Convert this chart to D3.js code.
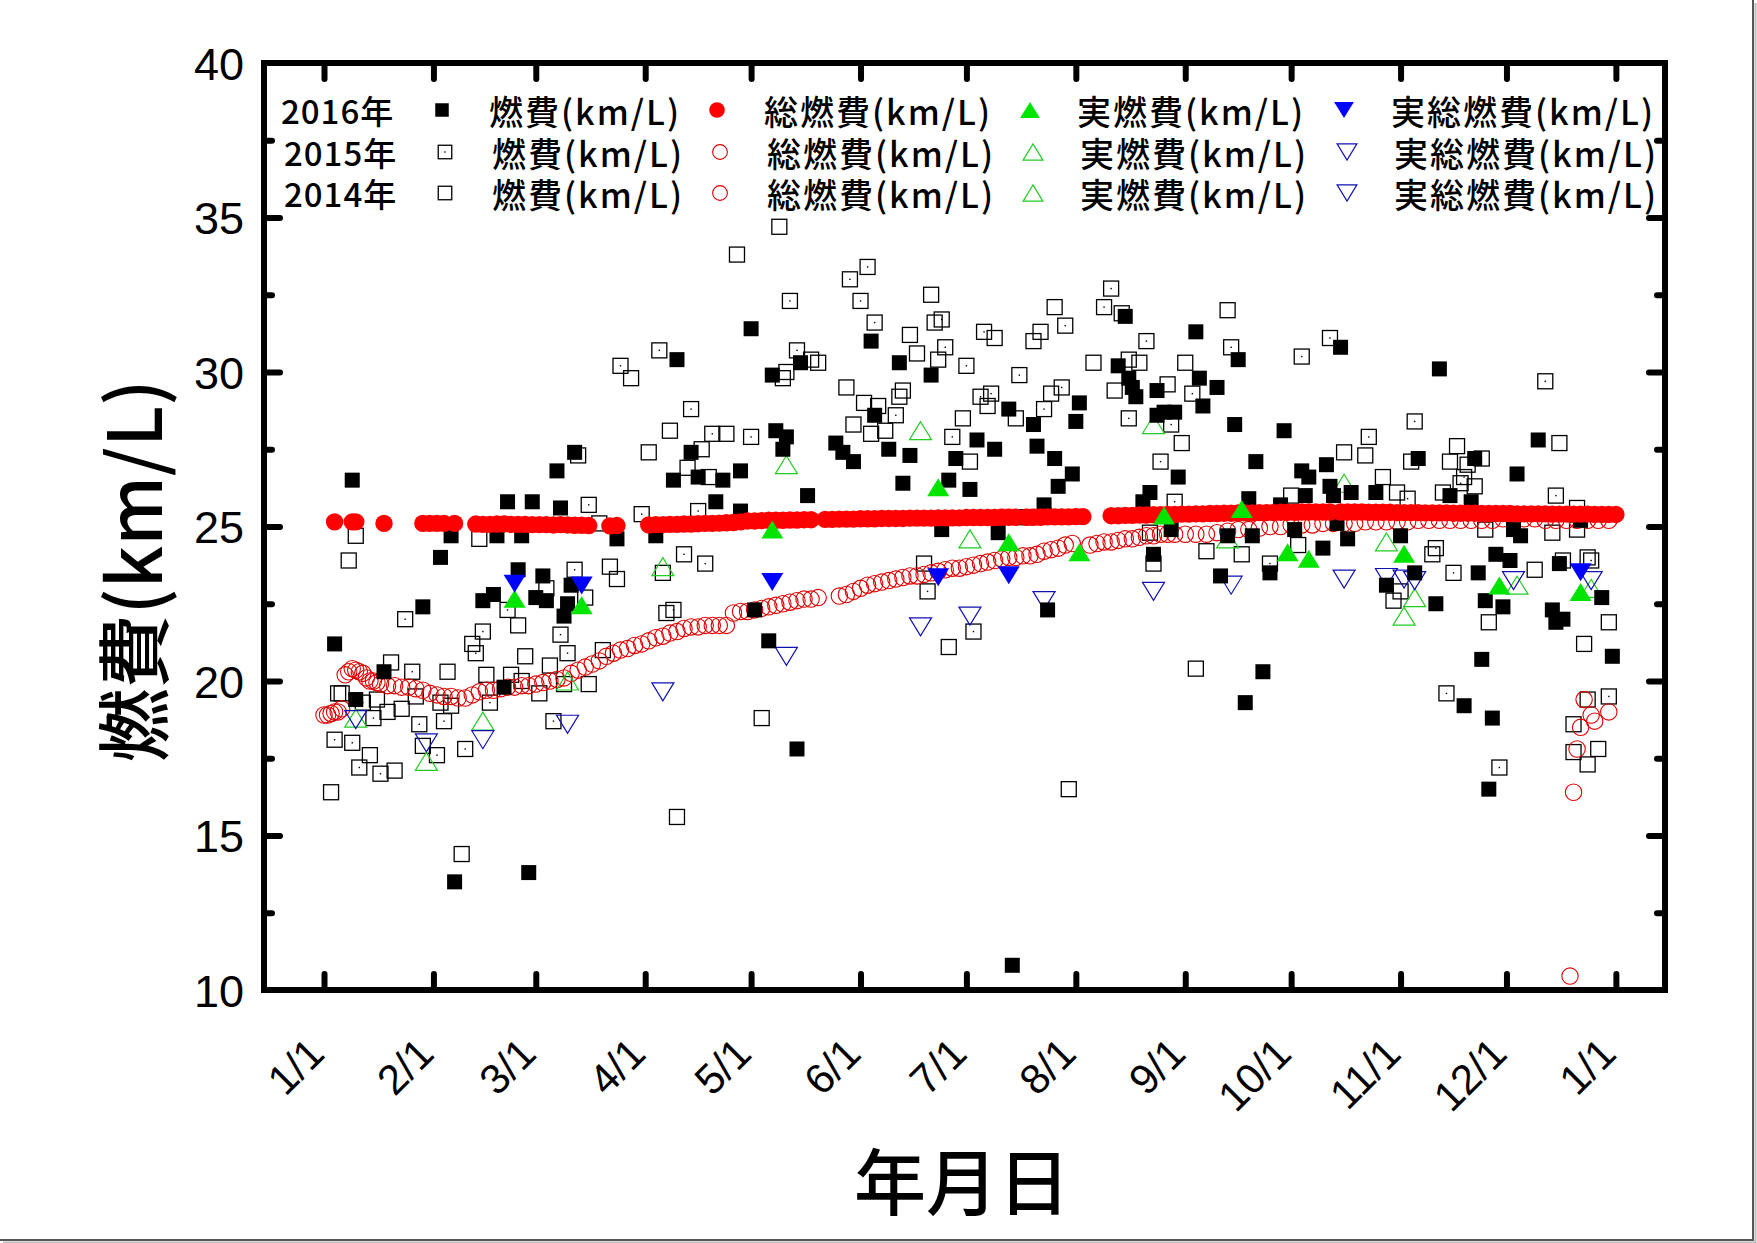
<!DOCTYPE html>
<html>
<head>
<meta charset="utf-8">
<script src="https://cdn.jsdelivr.net/npm/d3@7"></script>
<style>
  body { margin: 0; background: #fff; }
</style>
</head>
<body>
<svg id="chart" width="1757" height="1243"></svg>
<script>
  // tick labels
  var monthLabels = ['1/1','2/1','3/1','4/1','5/1','6/1','7/1','8/1','9/1','10/1','11/1','12/1','1/1'];
  var yMajor = [10, 15, 20, 25, 30, 35, 40];
  var yMinor = [12.5, 17.5, 22.5, 27.5, 32.5, 37.5];

  var legendYears = ['2016年', '2015年', '2014年'];
  var legendNames = ['燃費(km/L)', '総燃費(km/L)', '実燃費(km/L)', '実総燃費(km/L)'];

  // all series: [days since Jan 1, km/L]
  var fuel2016 = [[3,21.2],[8,26.5],[9,19.4],[17,20.3],[28,22.4],[33,24.0],[36,24.7],[37,13.5],[45,22.6],[48,22.8],[49,24.7],[51,19.8],[52,25.8],[55,23.6],[56,24.7],[58,13.8],[59,25.8],[60,22.7],[62,23.4],[63,22.6],[66,26.8],[67,25.6],[68,22.1],[69,22.5],[70,23.1],[71,27.4],[83,24.6],[94,24.7],[99,26.5],[100,30.4],[104,27.4],[106,26.6],[111,25.8],[113,26.5],[118,26.8],[118,25.5],
    [121,31.4],[122,22.3],[126,21.3],[127,29.9],[128,28.1],[130,27.5],[131,27.9],[134,17.8],[135,30.3],[137,26.0],[145,27.7],[147,27.4],[150,27.1],[155,31.0],[156,28.6],[160,27.5],[163,30.3],[164,26.4],[166,27.3],[172,29.9],[175,24.9],[177,26.5],[179,27.2],[183,26.2],[185,27.8],[190,27.5],[191,24.8],[194,28.8],[195,10.8],[201,28.3],[202,27.6],[204,25.7],[205,22.3],[207,27.2],[208,26.3],[212,26.7],[213,28.4],[214,29.0],[225,30.2],[227,31.8],[228,29.8],[229,29.5],[230,29.2],[232,25.8],[234,26.1],[235,24.1],[236,29.4],[236,28.6],[238,28.7],[240,24.9],[241,28.7],[242,26.6],[247,31.3],[248,29.8],[249,28.9],
    [253,29.5],[254,23.4],[256,24.7],[258,28.3],[259,30.4],[261,19.3],[262,25.9],[263,24.7],[264,27.1],[266,20.3],[268,23.5],[271,25.7],[272,28.1],[275,24.9],[277,26.8],[278,26.0],[279,26.6],[283,24.3],[284,27.0],[285,26.3],[286,26.0],[287,25.1],[288,30.8],[290,24.6],[291,26.1],[298,26.1],[301,23.1],[305,24.7],[309,23.5],[310,27.2],[315,22.5],[316,30.1],[319,26.0],[323,19.2],[325,25.8],[326,27.2],[327,23.5],[328,20.7],[329,22.6],[330,16.5],[331,18.8],[332,24.1],[334,22.4],[336,23.9],[337,24.9],[338,26.7],[339,24.7],[344,27.8],[348,22.3],[349,21.9],[350,23.8],[351,22.0],[356,25.2],[362,22.7],[365,20.8]];

  var fuel2015 = [[3,18.1],[8,18.0],[10,17.2],[11,19.3],[14,18.8],[16,17.0],[23,22.0],[25,20.3],[27,18.6],[32,17.6],[34,18.7],[40,17.8],[43,20.9],[45,21.6],[47,19.3],[52,22.3],[65,18.7],[67,21.5],[69,20.9],[71,23.6],[75,25.7],[84,30.2],[90,25.4],[95,30.7],[99,22.3],[102,24.1],[104,28.8],[106,25.5],[108,23.8],[110,28.0],
    [121,27.9],[132,32.3],[134,30.7],[149,33.0],[152,32.3],[154,33.4],[156,31.6],[162,28.6],[171,22.9],[175,31.7],[176,30.8],[178,27.9],[182,30.2],[184,21.6],[186,29.2],[187,31.3],[189,29.3],[197,29.9],[204,28.8],[209,29.5],[210,31.5],[221,32.1],[223,32.7],[228,28.5],[233,31.0],[237,27.1],[240,28.3],[241,25.8],[246,29.3],
    [257,30.8],[268,23.8],[277,30.5],[285,31.1],[296,27.9],[307,25.9],[309,28.4],[315,24.3],[318,19.6],[320,23.5],[322,26.4],[323,26.6],[333,17.2],[346,29.7],[349,26.0],[359,23.9],[364,19.5]];

  var fuel2014 = [[2,16.4],[4,19.6],[5,19.6],[7,23.9],[9,24.7],[13,17.6],[15,19.4],[18,19.0],[19,20.6],[20,17.1],[22,19.1],[26,19.5],[28,17.9],[33,19.3],[35,20.3],[36,19.2],[39,14.4],[42,21.2],[44,24.6],[46,20.2],[53,20.2],[55,21.8],[56,20.0],[57,20.8],[61,19.6],[63,23.0],[64,20.5],[68,19.9],[72,27.3],[74,22.7],[75,19.9],[78,25.1],[79,21.0],[81,23.7],[83,23.3],[87,29.8],[92,27.4],[96,23.5],[97,22.2],[98,28.1],[100,15.6],[103,26.9],[107,27.5],[109,26.6],[114,28.0],[117,33.8],
    [124,18.8],[129,34.7],[130,29.8],[131,30.0],[138,30.4],[140,30.3],[148,29.5],[150,28.3],[153,29.0],[155,28.0],[157,28.9],[159,28.1],[163,29.2],[164,29.4],[166,31.2],[168,30.6],[170,23.8],[172,32.5],[173,31.6],[174,30.4],[177,21.1],[181,28.5],[183,27.1],[188,28.9],[190,31.1],[196,28.5],[199,25.3],[201,31.0],[203,31.3],[206,29.3],[207,32.1],[211,16.5],[218,30.3],[224,29.4],[226,31.9],[228,30.4],[231,30.3],[234,24.8],[235,23.8],[239,29.6],[243,27.7],[244,30.3],[247,20.4],[250,24.2],
    [256,32.0],[260,24.1],[274,26.0],[276,24.4],[289,27.4],[295,27.3],[300,26.6],[303,22.6],[304,26.1],[305,22.9],[308,27.1],[314,24.1],[317,26.1],[319,27.1],[321,27.6],[324,27.0],[326,26.3],[328,27.2],[329,24.9],[330,21.9],[343,23.6],[348,24.8],[350,27.7],[351,23.9],[354,18.6],[354,17.7],[355,25.6],[355,24.9],[357,21.2],[358,24.0],[358,17.3],[358,19.4],[361,17.8],[364,21.9]];

  var total2016 = [[3,25.15],[8,25.15],[9,25.15],[17,25.1],[28,25.1],[30,25.1],[32,25.1],[34,25.1],[37,25.1],
    [43,25.08],[45,25.07],[47,25.07],[49,25.08],[51,25.08],[53,25.07],[55,25.07],[57,25.07],[59,25.06],[61,25.06],[63,25.06],[65,25.05],[67,25.06],[69,25.05],[71,25.04],[73,25.04],[75,25.03],
    [81,25.02],[83,25.03],
    [92,25.05],[94,25.06],[96,25.06],[98,25.07],[100,25.07],[102,25.08],[104,25.08],[106,25.09],[108,25.1],[110,25.1],[112,25.11],[114,25.12],[116,25.13],[118,25.15],
    [120,25.18],[122,25.18],[124,25.19],[126,25.2],[128,25.2],[130,25.2],[132,25.21],[134,25.21],[136,25.22],[138,25.22],
    [142,25.23],[144,25.23],[146,25.24],[148,25.24],[150,25.24],[152,25.25],[154,25.25],[156,25.25],[158,25.26],[160,25.26],[162,25.26],[164,25.26],[166,25.27],[168,25.27],[170,25.27],[172,25.27],[174,25.28],[176,25.28],[178,25.28],[180,25.28],[182,25.29],[184,25.29],[186,25.29],[188,25.29],[190,25.29],[192,25.3],[194,25.3],[196,25.3],
    [199,25.3],[201,25.3],[203,25.3],[205,25.31],[207,25.31],[209,25.31],[211,25.31],[213,25.32],[215,25.32],
    [223,25.35],[225,25.35],[227,25.36],[229,25.36],[231,25.37],[233,25.37],[235,25.38],[237,25.38],[239,25.39],[241,25.39],[243,25.4],[245,25.4],[247,25.41],[249,25.41],[251,25.42],[253,25.42],[255,25.43],[257,25.43],[259,25.44],[261,25.44],[263,25.44],[265,25.45],[267,25.45],[269,25.45],[271,25.46],[273,25.46],[275,25.46],[277,25.47],[279,25.47],[281,25.47],[283,25.47],[285,25.47],
    [288,25.47],[290,25.47],[292,25.47],[294,25.47],[296,25.46],[298,25.46],[300,25.46],[302,25.46],[304,25.45],
    [306,25.45],[308,25.45],[310,25.45],[312,25.44],[314,25.44],[316,25.44],[318,25.44],[320,25.43],[322,25.43],[324,25.43],[326,25.43],[328,25.42],[330,25.42],[332,25.42],[334,25.42],[336,25.42],[338,25.41],[340,25.41],[342,25.41],[344,25.41],[346,25.41],[348,25.4],[350,25.4],[352,25.4],[354,25.4],[356,25.4],[358,25.4],[360,25.39],[362,25.39],[364,25.39],[366,25.39]];

  var total2015 = [[0,18.9],[1,18.9],[2,18.95],[3,19.0],[4,19.0],[5,19.1],[6,20.2],[7,20.3],[8,20.4],[9,20.35],[10,20.3],[11,20.25],[12,20.1],[13,20.0],[14,20.0],[15,19.95],[16,19.9],[18,19.85],[20,19.85],[22,19.8],[24,19.8],[26,19.75],[28,19.7],[30,19.6],[32,19.55],[34,19.5],[36,19.5],[38,19.45],[40,19.45],[42,19.55],[44,19.65],[46,19.7],[48,19.7],[50,19.75],[52,19.8],[54,19.8],[56,19.85],[58,19.85],[60,19.9],[62,19.95],[64,20.0],[66,20.05],[68,20.1],[70,20.25],[72,20.35],[74,20.45],[76,20.55],[78,20.65],[80,20.8],[82,20.9],[84,21.0],[86,21.05],[88,21.15],[90,21.2],[92,21.3],[94,21.4],[96,21.45],[98,21.55],[100,21.6],[102,21.7],[104,21.75],[106,21.75],[108,21.8],[110,21.8],[112,21.8],[114,21.8],
    [116,22.2],[118,22.25],[120,22.25],[122,22.3],[124,22.35],[126,22.4],[128,22.45],[130,22.5],[132,22.55],[134,22.6],[136,22.65],[138,22.65],[140,22.7],
    [146,22.75],[148,22.8],[150,22.9],[152,23.0],[154,23.1],[156,23.15],[158,23.2],[160,23.25],[162,23.3],[164,23.35],[166,23.4],[168,23.4],[170,23.45],[172,23.5],[174,23.55],[176,23.6],[178,23.65],[180,23.65],[182,23.7],[184,23.75],[186,23.8],[188,23.85],[190,23.9],[192,23.95],[194,24.0],[196,24.0],[198,24.05],[200,24.05],[202,24.1],[204,24.2],[206,24.25],[208,24.3],[210,24.4],[212,24.45],
    [217,24.4],[219,24.45],[221,24.5],[223,24.5],[225,24.55],[227,24.6],[229,24.6],[231,24.65],[233,24.7],[235,24.7],[237,24.75],[239,24.75],[241,24.75],[244,24.75],[247,24.75],[250,24.75],[253,24.8],[256,24.85],[259,24.9],[262,24.9],[265,24.95],[268,25.0],[271,25.0],[274,25.05],[277,25.05],[280,25.05],[283,25.1],[286,25.1],[289,25.1],[292,25.1],[295,25.15],[298,25.15],[301,25.15],[304,25.15],[307,25.15],[310,25.2],[313,25.2],[316,25.2],[319,25.2],[322,25.2],[325,25.2],[328,25.2],[331,25.2],[334,25.25],[337,25.25],[340,25.25],[343,25.25],[346,25.2],[349,25.2],[352,25.2],[355,25.2],[358,25.2],[361,25.2],[364,25.2]];

  var total2014 = [[353,10.45],[354,16.4],[355,17.8],[356,18.5],[357,19.4],[359,18.9],[360,18.7],[364,19.0]];

  var real2016 = [[54,22.66],[73,22.45],[127,24.9],[174,26.27],[194,24.49],[214,24.17],[238,25.36],[260,25.57],[273,24.17],[279,23.96],[306,24.12],[333,23.09],[356,22.88]];
  var real2015 = [[9,18.8],[29,17.4],[45,18.7],[69,20.0],[96,23.7],[131,27.0],[169,28.1],[183,24.6],[205,25.5],[235,28.3],[256,24.6],[289,26.4],[301,24.5],[306,22.1],[309,22.7],[338,23.1]];
  var real2014 = [[359,23.0]];

  var realTotal2016 = [[54,23.15],[73,23.09],[127,23.2],[174,23.36],[194,23.42],[356,23.52]];
  var realTotal2015 = [[9,18.75],[29,18.0],[45,18.1],[69,18.6],[96,19.65],[131,20.8],[169,21.75],[183,22.1],[204,22.6],[235,22.9],[257,23.1],[289,23.3],[301,23.35],[306,23.3],[309,23.25],[337,23.25]];
  var realTotal2014 = [[359,23.25]];

  var svg = d3.select('#chart');
  var plotL = 264, plotR = 1665, plotT = 63, plotB = 990;

  var jan1 = new Date(2016, 0, 1);
  function day(n) { return d3.timeDay.offset(jan1, n); }

  var x = d3.scaleTime()
      .domain([new Date(2015, 11, 15), new Date(2017, 0, 14, 22)])
      .range([plotL, plotR]);
  var y = d3.scaleLinear().domain([10, 40]).range([plotB, plotT]);

  var green = '#00e400', blue = '#0000ff', red = '#ff0000';

  // marker shapes, k scales them (legend uses smaller ones)
  function drawMarker(g, kind, k) {
    k = k || 1;
    var s = 7.5 * k;
    if (kind == 'sqFill') {
      g.append('rect').attr('x', -s).attr('y', -s).attr('width', 2 * s).attr('height', 2 * s).attr('fill', '#000');
    } else if (kind == 'sqOpen' || kind == 'sqDot') {
      g.append('rect').attr('x', -s).attr('y', -s).attr('width', 2 * s).attr('height', 2 * s)
        .attr('fill', 'none').attr('stroke', '#000').attr('stroke-width', 1.3);
      if (kind == 'sqDot')
        g.append('rect').attr('x', -0.7).attr('y', -0.7).attr('width', 1.4).attr('height', 1.4).attr('fill', '#000');
    } else if (kind == 'circFill') {
      g.append('circle').attr('r', 8.7 * k).attr('fill', red);
    } else if (kind == 'circOpen') {
      g.append('circle').attr('r', 8.2 * k).attr('fill', 'none').attr('stroke', '#e00000').attr('stroke-width', 1.1);
    } else {
      var w = 11 * k, h = 9 * k;
      var up = kind.indexOf('Up') > 0;
      var p = up ? 'M0,' + (-h) + 'L' + w + ',' + h + 'L' + (-w) + ',' + h + 'Z'
                 : 'M' + (-w) + ',' + (-h) + 'L' + w + ',' + (-h) + 'L0,' + h + 'Z';
      var path = g.append('path').attr('d', p);
      if (kind.indexOf('Fill') > 0) path.attr('fill', up ? green : blue);
      else path.attr('fill', 'none').attr('stroke', up ? '#22cc22' : '#1010b0').attr('stroke-width', 1.2);
    }
  }

  // draw order matches the original (open symbols underneath)
  var series = [
    { data: fuel2014, kind: 'sqOpen', row: 2, col: 0 },
    { data: fuel2015, kind: 'sqDot', row: 1, col: 0 },
    { data: total2014, kind: 'circOpen', row: 2, col: 1 },
    { data: total2015, kind: 'circOpen', row: 1, col: 1 },
    { data: real2014, kind: 'triUpOpen', row: 2, col: 2 },
    { data: real2015, kind: 'triUpOpen', row: 1, col: 2 },
    { data: realTotal2014, kind: 'triDownOpen', row: 2, col: 3 },
    { data: realTotal2015, kind: 'triDownOpen', row: 1, col: 3 },
    { data: fuel2016, kind: 'sqFill', row: 0, col: 0 },
    { data: total2016, kind: 'circFill', row: 0, col: 1 },
    { data: real2016, kind: 'triUpFill', row: 0, col: 2 },
    { data: realTotal2016, kind: 'triDownFill', row: 0, col: 3 }
  ];

  var plot = svg.append('g');
  series.forEach(function(s) {
    plot.append('g').selectAll('g')
      .data(s.data)
      .enter().append('g')
        .attr('transform', function(d) { return 'translate(' + x(day(d[0])) + ',' + y(d[1]) + ')'; })
        .each(function() { drawMarker(d3.select(this), s.kind); });
  });

  // axes, ticks point inward
  var monthTicks = d3.timeMonth.range(jan1, new Date(2017, 0, 2));
  var tickFont = 'Liberation Sans, Arial, sans-serif';

  function styleAxis(g) {
    g.select('.domain').remove();
    g.selectAll('.tick line').attr('stroke', '#000').attr('stroke-width', 6).attr('stroke-linecap', 'round');
    g.attr('font-family', tickFont);
  }

  var axB = svg.append('g').attr('transform', 'translate(0,' + plotB + ')')
    .call(d3.axisBottom(x).tickValues(monthTicks).tickSize(-16)
      .tickFormat(function(d, i) { return monthLabels[i]; }));
  styleAxis(axB);
  axB.attr('font-size', 42);
  axB.selectAll('text')
    .attr('y', 0).attr('dy', null).attr('text-anchor', 'end')
    .attr('transform', 'translate(2,66) rotate(-45)')
    .attr('fill', '#000');

  var axT = svg.append('g').attr('transform', 'translate(0,' + plotT + ')')
    .call(d3.axisTop(x).tickValues(monthTicks).tickSize(-16).tickFormat(''));
  styleAxis(axT);

  var axL = svg.append('g').attr('transform', 'translate(' + plotL + ',0)')
    .call(d3.axisLeft(y).tickValues(yMajor).tickSize(-16).tickPadding(20));
  styleAxis(axL);
  axL.attr('font-size', 45);
  axL.selectAll('text').attr('fill', '#000').attr('dy', '0.36em');
  axL.selectAll('.tick').filter(function(d) { return d == 10 || d == 40; }).select('line').remove();

  var axLm = svg.append('g').attr('transform', 'translate(' + plotL + ',0)')
    .call(d3.axisLeft(y).tickValues(yMinor).tickSize(-8).tickFormat(''));
  styleAxis(axLm);

  var axR = svg.append('g').attr('transform', 'translate(' + plotR + ',0)')
    .call(d3.axisRight(y).tickValues(yMajor.slice(1, -1)).tickSize(-16).tickFormat(''));
  styleAxis(axR);
  var axRm = svg.append('g').attr('transform', 'translate(' + plotR + ',0)')
    .call(d3.axisRight(y).tickValues(yMinor).tickSize(-8).tickFormat(''));
  styleAxis(axRm);

  svg.append('rect')
    .attr('x', plotL).attr('y', plotT).attr('width', plotR - plotL).attr('height', plotB - plotT)
    .attr('fill', 'none').attr('stroke', '#000').attr('stroke-width', 6);

  // legend
  var legendFont = 'Noto Sans CJK JP, sans-serif';
  var rowY = [110, 152, 193], rowShift = [0, 3, 3];
  var symX = [442, 717, 1030, 1344], textX = [489, 764, 1077, 1391];
  var legend = svg.append('g').attr('font-family', legendFont).attr('font-size', 34)
    .attr('font-weight', 500).attr('letter-spacing', 2);

  legendYears.forEach(function(t, r) {
    legend.append('text').attr('x', 281 + rowShift[r]).attr('y', rowY[r])
      .attr('dominant-baseline', 'central').attr('font-size', 33).attr('letter-spacing', 1).text(t);
  });
  series.forEach(function(s) {
    var g = legend.append('g')
      .attr('transform', 'translate(' + (symX[s.col] + rowShift[s.row]) + ',' + rowY[s.row] + ')');
    drawMarker(g, s.kind, 0.9);
    legend.append('text')
      .attr('x', textX[s.col] + rowShift[s.row]).attr('y', rowY[s.row])
      .attr('dominant-baseline', 'central')
      .text(legendNames[s.col]);
  });

  // axis titles
  svg.append('text')
    .attr('transform', 'translate(129,571) rotate(-90)')
    .attr('text-anchor', 'middle').attr('dominant-baseline', 'central')
    .attr('font-family', legendFont).attr('font-size', 74).attr('font-weight', 500)
    .text('燃費(km/L)');

  svg.append('text')
    .attr('x', 962).attr('y', 1177)
    .attr('text-anchor', 'middle').attr('dominant-baseline', 'central')
    .attr('font-family', legendFont).attr('font-size', 72).attr('font-weight', 500)
    .text('年月日');

  // screenshot border
  svg.append('path').attr('d', 'M1753,0V1240H0').attr('fill', 'none').attr('stroke', '#555').attr('stroke-width', 2);
  svg.append('path').attr('d', 'M1755.5,3V1242.5H3').attr('fill', 'none').attr('stroke', '#bbb').attr('stroke-width', 2);
</script>
</body>
</html>
